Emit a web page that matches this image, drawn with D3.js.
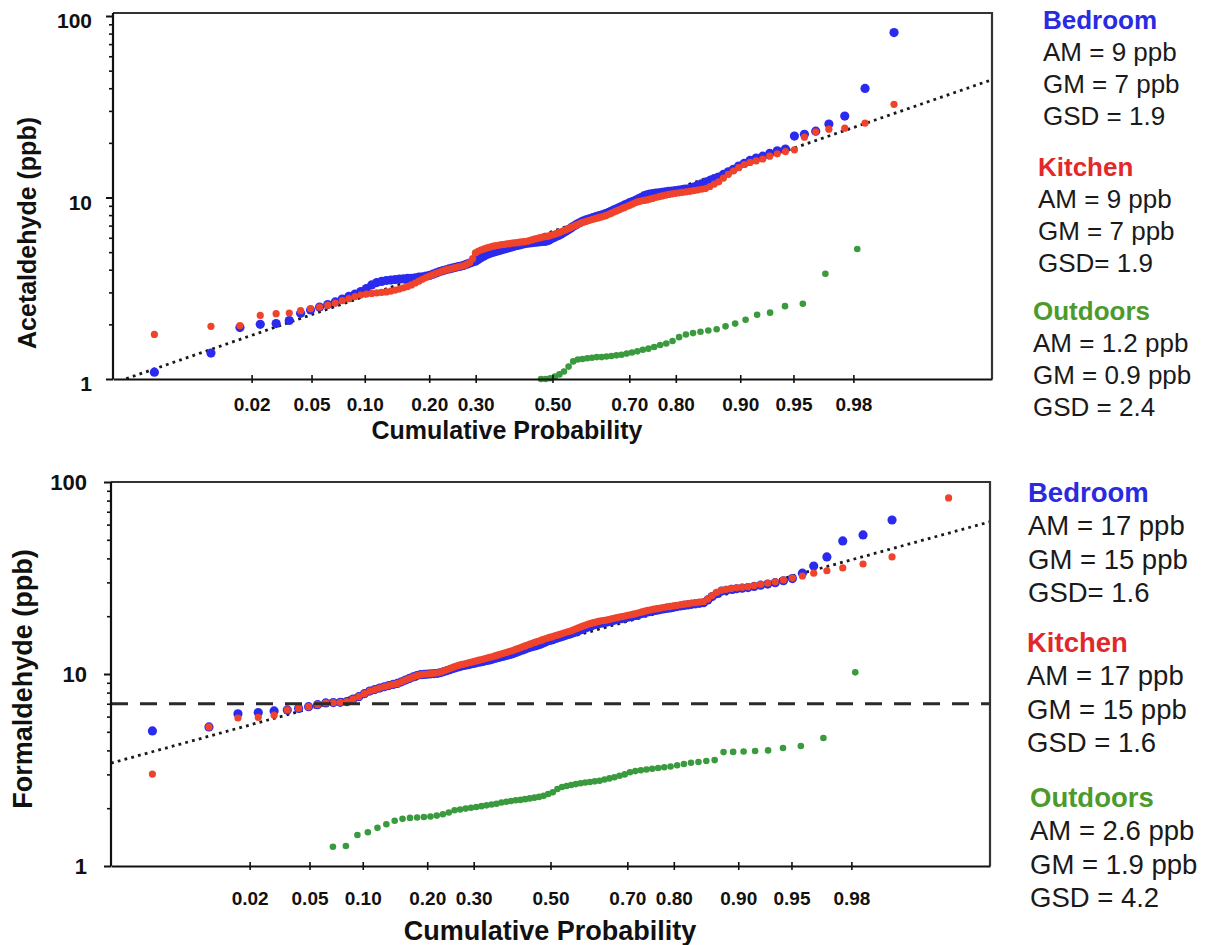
<!DOCTYPE html>
<html>
<head>
<meta charset="utf-8">
<script src="https://cdn.jsdelivr.net/npm/d3@7"></script>
<style>
  body { margin: 0; background: #fff; }
  svg text { font-family: "Liberation Sans", Arial, Helvetica, sans-serif; fill: #111; }
</style>
</head>
<body>
<svg id="chart" width="1206" height="945"></svg>
<script>
// ---- Probability axis ticks ----
const probTicks = [0.02, 0.05, 0.10, 0.20, 0.30, 0.50, 0.70, 0.80, 0.90, 0.95, 0.98];
const probTickLabels = ["0.02", "0.05", "0.10", "0.20", "0.30", "0.50", "0.70", "0.80", "0.90", "0.95", "0.98"];
const ppbMajorTicks = [1, 10, 100];
const ppbMinorTicks = [2, 3, 4, 5, 6, 7, 8, 9, 20, 30, 40, 50, 60, 70, 80, 90];

const seriesNames = ["Bedroom", "Kitchen", "Outdoors"];

// ---- Acetaldehyde, sorted concentrations (ppb) ----
const acetBedroom = [
  1.09,1.39,1.92,2.00,2.02,2.10,2.30,2.40,2.49,2.57,
  2.66,2.76,2.85,2.94,3.03,3.15,3.30,3.40,3.45,3.49,
  3.51,3.53,3.55,3.56,3.58,3.59,3.61,3.64,3.66,3.69,
  3.72,3.78,3.84,3.90,3.95,4.00,4.04,4.08,4.12,4.16,
  4.19,4.23,4.29,4.35,4.41,4.46,4.55,4.65,4.74,4.83,
  4.90,4.96,5.01,5.06,5.11,5.16,5.21,5.25,5.30,5.35,
  5.40,5.44,5.48,5.53,5.57,5.60,5.62,5.64,5.66,5.68,
  5.70,5.72,5.73,5.75,5.82,5.92,6.00,6.10,6.18,6.28,
  6.40,6.52,6.65,6.78,6.92,7.05,7.18,7.30,7.42,7.50,
  7.58,7.66,7.74,7.82,7.90,7.98,8.06,8.15,8.25,8.38,
  8.51,8.64,8.78,8.92,9.07,9.21,9.36,9.50,9.64,9.80,
  10.0,10.2,10.35,10.45,10.5,10.56,10.62,10.68,10.74,10.80,
  10.86,10.92,10.98,11.05,11.12,11.2,11.4,11.65,11.9,12.15,
  12.4,12.7,12.95,13.4,13.85,14.3,14.9,15.4,16.0,16.5,
  16.9,17.5,18.1,18.5,21.8,22.3,23.2,25.4,28.1,39.9,
  81
];
const acetKitchen = [
  1.76,1.95,1.97,2.24,2.29,2.31,2.38,2.44,2.49,2.55,
  2.62,2.70,2.77,2.84,2.90,2.94,2.96,2.98,3.00,3.02,
  3.05,3.09,3.13,3.18,3.23,3.30,3.38,3.46,3.54,3.62,
  3.69,3.76,3.82,3.88,3.94,3.99,4.03,4.07,4.11,4.15,
  4.18,4.22,4.30,4.38,4.60,4.95,5.05,5.13,5.20,5.26,
  5.31,5.36,5.41,5.44,5.47,5.50,5.52,5.55,5.57,5.60,
  5.62,5.64,5.67,5.69,5.71,5.74,5.79,5.84,5.89,5.94,
  5.99,6.03,6.07,6.10,6.14,6.20,6.26,6.33,6.40,6.47,
  6.55,6.64,6.73,6.82,6.92,7.02,7.12,7.22,7.30,7.37,
  7.44,7.51,7.58,7.65,7.72,7.79,7.86,7.94,8.05,8.17,
  8.29,8.41,8.53,8.66,8.79,8.92,9.06,9.20,9.35,9.48,
  9.56,9.63,9.70,9.80,9.90,10.0,10.1,10.2,10.3,10.4,
  10.47,10.54,10.61,10.68,10.75,10.82,10.9,11.0,11.1,11.2,
  11.5,11.85,12.2,12.8,13.4,14.0,14.6,15.2,15.6,15.9,
  16.3,16.9,17.4,17.9,18.3,21.5,23.0,23.8,24.1,25.7,
  32.6
];
// outdoor values from rank 38 upward (lower ranks fall under 1 ppb)
const acetOutdoor = [
  1.00,1.00,1.01,1.03,1.06,1.10,1.17,1.25,1.28,1.29,
  1.30,1.31,1.32,1.32,1.33,1.34,1.35,1.36,1.38,1.40,
  1.42,1.45,1.47,1.50,1.54,1.57,1.62,1.70,1.76,1.79,
  1.82,1.85,1.88,1.95,2.02,2.12,2.26,2.32,2.52,2.60,
  3.8,5.2
];
const acetSampleSize = [152, 152, 80];
const acetFirstRank = [1, 1, 38];
const acetFit = { gm: 6.5, gsd: 1.9 };
const acetLegend = [
  ["Bedroom", "AM = 9 ppb", "GM = 7 ppb", "GSD = 1.9"],
  ["Kitchen", "AM = 9 ppb", "GM = 7 ppb", "GSD= 1.9"],
  ["Outdoors", "AM = 1.2 ppb", "GM = 0.9 ppb", "GSD = 2.4"]
];

// ---- Formaldehyde, sorted concentrations (ppb) ----
const formBedroom = [
  5.05,5.3,6.2,6.3,6.42,6.5,6.62,6.76,6.92,7.07,
  7.10,7.12,7.18,7.40,7.62,7.90,8.15,8.30,8.45,8.58,
  8.70,8.82,8.93,9.10,9.30,9.48,9.65,9.82,9.92,9.95,
  9.98,10.02,10.05,10.08,10.17,10.3,10.42,10.55,10.68,10.8,
  10.92,11.03,11.1,11.18,11.27,11.35,11.43,11.52,11.6,11.68,
  11.76,11.84,11.95,12.05,12.15,12.25,12.35,12.45,12.55,12.65,
  12.75,12.9,13.05,13.2,13.35,13.5,13.65,13.8,13.9,14.0,
  14.1,14.25,14.4,14.6,14.8,14.95,15.05,15.2,15.35,15.5,
  15.65,15.8,15.95,16.1,16.25,16.4,16.6,16.8,17.0,17.2,
  17.4,17.6,17.8,18.0,18.15,18.3,18.4,18.5,18.6,18.75,
  18.9,19.05,19.2,19.35,19.45,19.6,19.75,19.9,20.05,20.2,
  20.45,20.65,20.85,21.05,21.2,21.35,21.5,21.65,21.8,21.95,
  22.1,22.25,22.45,22.6,22.75,22.9,23.05,23.2,23.35,23.5,
  24.3,25.3,26.2,27.0,27.3,27.6,27.8,28.0,28.2,28.6,
  29.0,29.4,29.9,30.6,31.4,33.5,36.5,40.7,49.3,53.0,
  63.4
];
const formKitchen = [
  3.01,5.3,5.9,5.95,6.1,6.5,6.62,6.76,6.92,7.07,
  7.10,7.12,7.18,7.40,7.62,7.90,8.15,8.30,8.45,8.58,
  8.70,8.82,8.93,9.10,9.30,9.48,9.65,9.82,9.92,9.97,
  10.0,10.05,10.1,10.15,10.25,10.4,10.55,10.7,10.85,11.0,
  11.12,11.22,11.3,11.4,11.5,11.6,11.7,11.8,11.9,12.0,
  12.1,12.2,12.3,12.42,12.54,12.66,12.78,12.9,13.0,13.12,
  13.25,13.4,13.55,13.7,13.85,14.0,14.15,14.3,14.45,14.6,
  14.75,14.9,15.05,15.2,15.35,15.5,15.6,15.75,15.9,16.05,
  16.2,16.35,16.5,16.65,16.8,17.0,17.2,17.4,17.6,17.8,
  18.0,18.2,18.35,18.5,18.65,18.8,18.9,19.0,19.1,19.2,
  19.35,19.5,19.65,19.8,19.9,20.05,20.2,20.35,20.5,20.65,
  20.85,21.05,21.25,21.45,21.6,21.75,21.9,22.05,22.2,22.35,
  22.5,22.65,22.8,22.95,23.1,23.25,23.4,23.55,23.7,23.85,
  24.6,25.6,26.6,27.3,27.6,27.9,28.1,28.3,28.5,28.9,
  29.3,29.7,30.2,30.9,31.6,32.4,33.5,34.5,35.7,37.4,
  40.7,82.6
];
// outdoor values from rank 6 upward
const formOutdoor = [
  1.26,1.27,1.45,1.50,1.58,1.65,1.72,1.76,1.78,1.79,
  1.80,1.81,1.83,1.86,1.90,1.95,1.97,1.99,2.01,2.03,
  2.05,2.07,2.09,2.11,2.14,2.16,2.18,2.20,2.21,2.23,
  2.25,2.27,2.29,2.32,2.37,2.42,2.52,2.58,2.61,2.64,
  2.67,2.70,2.72,2.74,2.76,2.78,2.82,2.86,2.90,2.95,
  3.00,3.08,3.12,3.15,3.18,3.21,3.24,3.27,3.30,3.35,
  3.40,3.45,3.48,3.52,3.56,3.92,3.93,3.95,3.97,4.00,
  4.12,4.22,4.64,10.2
];
const formSampleSize = [152, 152, 80];
const formFirstRank = [1, 1, 6];
const formFit = { gm: 14.6, gsd: 1.62 };
const formReference = 7; // ppb, dashed reference level
const formLegend = [
  ["Bedroom", "AM = 17 ppb", "GM = 15 ppb", "GSD= 1.6"],
  ["Kitchen", "AM = 17 ppb", "GM = 15 ppb", "GSD = 1.6"],
  ["Outdoors", "AM = 2.6 ppb", "GM = 1.9 ppb", "GSD = 4.2"]
];

const dotColors = ["#2b2bef", "#f0432b", "#3a9a3e"];
const dotRadius = [4.6, 3.6, 3.3];
const legendColors = ["#2a2ae0", "#e3282a", "#4c9a2c"];

// Inverse standard normal CDF (Acklam's rational approximation)
function probit(p) {
  const a = [-3.969683028665376e+01, 2.209460984245205e+02, -2.759285104469687e+02, 1.383577518672690e+02, -3.066479806614716e+01, 2.506628277459239e+00];
  const b = [-5.447609879822406e+01, 1.615858368580409e+02, -1.556989798598866e+02, 6.680131188771972e+01, -1.328068155288572e+01];
  const c = [-7.784894002430293e-03, -3.223964580411365e-01, -2.400758277161838e+00, -2.549732539343734e+00, 4.374664141464968e+00, 2.938163982698783e+00];
  const d = [7.784695709041462e-03, 3.224671290700398e-01, 2.445134137142996e+00, 3.754408661907416e+00];
  const pl = 0.02425, ph = 1 - pl;
  let q, r;
  if (p < pl) {
    q = Math.sqrt(-2 * Math.log(p));
    return (((((c[0]*q+c[1])*q+c[2])*q+c[3])*q+c[4])*q+c[5]) / ((((d[0]*q+d[1])*q+d[2])*q+d[3])*q+1);
  }
  if (p <= ph) {
    q = p - 0.5; r = q * q;
    return (((((a[0]*r+a[1])*r+a[2])*r+a[3])*r+a[4])*r+a[5])*q / (((((b[0]*r+b[1])*r+b[2])*r+b[3])*r+b[4])*r+1);
  }
  q = Math.sqrt(-2 * Math.log(1 - p));
  return -(((((c[0]*q+c[1])*q+c[2])*q+c[3])*q+c[4])*q+c[5]) / ((((d[0]*q+d[1])*q+d[2])*q+d[3])*q+1);
}

const svg = d3.select("#chart");

function drawPanel(cfg) {
  const g = svg.append("g");
  const x = d3.scaleLinear().domain([-3, 3]).range([cfg.left, cfg.right]);
  const y = d3.scaleLog().domain([1, 100]).range([cfg.y1, cfg.y100]);

  const clipId = "clip" + cfg.id;
  svg.append("clipPath").attr("id", clipId)
    .append("rect")
    .attr("x", cfg.left).attr("y", y(100))
    .attr("width", cfg.right - cfg.left).attr("height", y(1) - y(100));

  // log-normal fit line
  g.append("path")
    .datum([-3, 3])
    .attr("clip-path", `url(#${clipId})`)
    .attr("d", d3.line().x(z => x(z)).y(z => y(cfg.fit.gm * Math.pow(cfg.fit.gsd, z))))
    .attr("fill", "none").attr("stroke", "#1a1a1a")
    .attr("stroke-width", 2.8).attr("stroke-dasharray", "2.8,4.2");

  // probability-plot points
  cfg.series.forEach((vals, s) => {
    const n = cfg.sampleSize[s], r0 = cfg.firstRank[s];
    const pts = vals.map((v, k) => ({ z: probit((r0 + k - 0.5) / n), v }))
      .filter(d => d.v >= 1 && d.v <= 100);
    g.append("g").selectAll("circle").data(pts).join("circle")
      .attr("cx", d => x(d.z)).attr("cy", d => y(d.v))
      .attr("r", dotRadius[s]).attr("fill", dotColors[s]);
  });

  if (cfg.reference) {
    g.append("line")
      .attr("x1", cfg.left).attr("x2", cfg.right)
      .attr("y1", y(cfg.reference)).attr("y2", y(cfg.reference))
      .attr("stroke", "#2a2a2a").attr("stroke-width", 3)
      .attr("stroke-dasharray", "17,12");
  }

  // frame: top and right edges
  g.append("path")
    .attr("d", `M${cfg.left},${cfg.frameTop}H${cfg.right}V${cfg.y1}`)
    .attr("fill", "none").attr("stroke", "#333").attr("stroke-width", 2.2);

  // left axis: major and minor ticks
  const yMajor = g.append("g").attr("transform", `translate(${cfg.left},0)`)
    .call(d3.axisLeft(y).tickValues(ppbMajorTicks).tickFormat(d3.format("d")).tickSizeInner(7).tickSizeOuter(0).tickPadding(cfg.yLabelPad));
  yMajor.select(".domain").attr("d", `M0,${cfg.frameTop}V${cfg.y1}`).attr("stroke", "#111").attr("stroke-width", 2.2);
  yMajor.selectAll(".tick line").attr("stroke", "#111").attr("stroke-width", 2);
  yMajor.selectAll(".tick text")
    .attr("font-size", cfg.yTickFont).attr("font-weight", "bold")
    .attr("dy", cfg.yLabelDy);

  const yMinor = g.append("g").attr("transform", `translate(${cfg.left},0)`)
    .call(d3.axisLeft(y).tickValues(ppbMinorTicks).tickFormat("").tickSizeInner(4).tickSizeOuter(0));
  yMinor.select(".domain").remove();
  yMinor.selectAll(".tick line").attr("stroke", "#111").attr("stroke-width", 1.6);

  // bottom axis on the probability scale
  const xAxis = g.append("g").attr("transform", `translate(0,${cfg.y1})`)
    .call(d3.axisBottom(x).tickValues(probTicks.map(probit))
      .tickFormat((d, i) => probTickLabels[i]).tickSizeInner(4).tickSizeOuter(0).tickPadding(cfg.xLabelPad));
  xAxis.select(".domain").attr("stroke", "#111").attr("stroke-width", 2.2);
  xAxis.selectAll(".tick line").attr("y1", -4).attr("y2", 4).attr("stroke", "#111").attr("stroke-width", 1.6);
  xAxis.selectAll(".tick text")
    .attr("font-size", 19).attr("font-weight", "bold").attr("dy", "0.71em");

  // axis titles
  g.append("text")
    .attr("x", cfg.xTitleX).attr("y", cfg.xTitleY)
    .attr("text-anchor", "middle").attr("font-size", cfg.titleFont).attr("font-weight", "bold")
    .text("Cumulative Probability");
  g.append("text")
    .attr("transform", `translate(${cfg.yTitleX},${cfg.yTitleY}) rotate(-90)`)
    .attr("text-anchor", "middle").attr("font-size", cfg.titleFont).attr("font-weight", "bold")
    .attr("dy", "0.35em")
    .text(cfg.yTitle);

  // summary statistics
  cfg.legend.forEach((block, b) => {
    block.forEach((line, j) => {
      g.append("text")
        .attr("x", cfg.legendX[b])
        .attr("y", cfg.legendY[b] + j * cfg.legendStep)
        .attr("font-size", cfg.legendFont)
        .attr("font-weight", j === 0 ? "bold" : "normal")
        .style("fill", j === 0 ? legendColors[b] : "#1a1a1a")
        .text(line);
    });
  });
}

drawPanel({
  id: "acet", left: 113, right: 992, frameTop: 13, y100: 16, y1: 379,
  series: [acetBedroom, acetKitchen, acetOutdoor],
  sampleSize: acetSampleSize, firstRank: acetFirstRank,
  fit: acetFit, reference: null,
  yTitle: "Acetaldehyde (ppb)", yTitleX: 27, yTitleY: 233,
  xTitleX: 507, xTitleY: 439, titleFont: 25,
  yTickFont: 21, yLabelPad: 14, yLabelDy: "0.55em", xLabelPad: 15,
  legend: acetLegend, legendX: [1043, 1038, 1033], legendY: [29, 176, 320],
  legendStep: 32, legendFont: 26
});

drawPanel({
  id: "form", left: 111, right: 990, frameTop: 482, y100: 482, y1: 866,
  series: [formBedroom, formKitchen, formOutdoor],
  sampleSize: formSampleSize, firstRank: formFirstRank,
  fit: formFit, reference: formReference,
  yTitle: "Formaldehyde (ppb)", yTitleX: 23, yTitleY: 679,
  xTitleX: 550, xTitleY: 940, titleFont: 27,
  yTickFont: 22, yLabelPad: 17, yLabelDy: "0.35em", xLabelPad: 22,
  legend: formLegend, legendX: [1028, 1027, 1030], legendY: [502, 652, 807],
  legendStep: 33.3, legendFont: 27.5
});
</script>
</body>
</html>
